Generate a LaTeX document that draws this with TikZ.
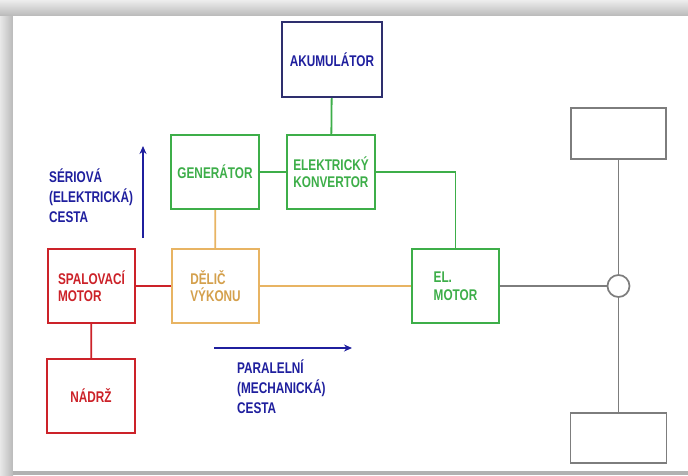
\documentclass[tikz,border=0pt]{standalone}
\usepackage{fontspec}
\setmainfont{Liberation Sans}[FakeStretch=0.76]
\usetikzlibrary{arrows.meta}
\definecolor{cred}{HTML}{CC2229}
\definecolor{cgreen}{HTML}{3DAE49}
\definecolor{corange}{HTML}{E8B463}
\definecolor{corangetxt}{HTML}{D4A04C}
\definecolor{cnavy}{HTML}{2E2F6E}
\definecolor{cblue}{HTML}{1F1F9E}
\definecolor{cgray}{HTML}{7D7D7D}
\tikzset{
  box/.style={draw, rectangle, line width=2pt, inner sep=0pt, align=left,
    font=\fontsize{15.5}{17.5}\selectfont\bfseries},
  wheel/.style={draw=cgray, rectangle, line width=1.7pt, inner sep=0pt},
  conn/.style={line width=1.8pt},
  lbl/.style={inner sep=0pt, align=left, text=cblue,
    font=\fontsize{15.5}{20}\selectfont\bfseries},
  arr/.style={cblue, line width=1.7pt, -{Stealth[length=8pt,width=7pt]}}
}
\begin{document}
\begin{tikzpicture}[x=1pt,y=-1pt]
\useasboundingbox (0,0) rectangle (688,475);
% frame
\fill[gray!45] (0,0) rectangle (688,475);
\shade[top color=gray!14, bottom color=gray!55] (0,0) rectangle (688,16);
\shade[left color=gray!18, right color=gray!55] (0,16) rectangle (13,475);
\fill[gray!60] (13,471) rectangle (688,475);
\fill[white] (13,16) rectangle (688,471);
% boxes
\node[box, draw=cnavy, text=cblue, minimum width=100pt, minimum height=75pt] (aku) at (332,59.5) {AKUMULÁTOR};
\node[box, draw=cgreen, text=cgreen, minimum width=88pt, minimum height=74pt] (gen) at (215,172) {GENERÁTOR};
\node[box, draw=cgreen, text=cgreen, minimum width=88pt, minimum height=74pt] (konv) at (331,172) {ELEKTRICKÝ\\KONVERTOR};
\node[box, draw=cred, text=cred, minimum width=87pt, minimum height=74pt] (spal) at (91.5,286) {SPALOVACÍ\\MOTOR};
\node[box, draw=corange, text=corangetxt, minimum width=87pt, minimum height=74pt] (delic) at (215.5,286) {DĚLIČ\\VÝKONU};
\node[box, draw=cgreen, text=cgreen, minimum width=87pt, minimum height=74pt] (elm) at (455.5,286) {EL.\\MOTOR};
\node[box, draw=cred, text=cred, minimum width=88pt, minimum height=74pt] (nadrz) at (91,396) {NÁDRŽ};
\node[wheel, minimum width=95pt, minimum height=51pt] (wt) at (618.5,133.5) {};
\node[wheel, minimum width=96pt, minimum height=50pt] (wb) at (618.5,438) {};
\node[draw=cgray, circle, line width=1.7pt, minimum size=22pt, inner sep=0pt] (circ) at (618.5,286) {};
% connectors
\draw[conn, cgreen] (aku) -- (konv);
\draw[conn, cgreen] (gen) -- (konv);
\draw[conn, cgreen] (konv.east) -| (elm.north);
\draw[conn, corange] (gen) -- (delic);
\draw[conn, cred] (spal) -- (delic);
\draw[conn, corange] (delic) -- (elm);
\draw[conn, cgray] (elm) -- (circ);
\draw[conn, cgray] (wt) -- (circ);
\draw[conn, cgray] (circ) -- (wb);
\draw[conn, cred] (spal) -- (nadrz);
% labels and arrows
\node[lbl, anchor=west] (ser) at (49,196) {SÉRIOVÁ\\(ELEKTRICKÁ)\\CESTA};
\node[lbl, anchor=west] (par) at (237,387) {PARALELNÍ\\(MECHANICKÁ)\\CESTA};
\coordinate (a1s) at (143,238);
\coordinate (a1e) at (143,146);
\draw[arr] (a1s) -- (a1e);
\coordinate (a2s) at (214,348);
\coordinate (a2e) at (352,348);
\draw[arr] (a2s) -- (a2e);
\end{tikzpicture}
\end{document}
